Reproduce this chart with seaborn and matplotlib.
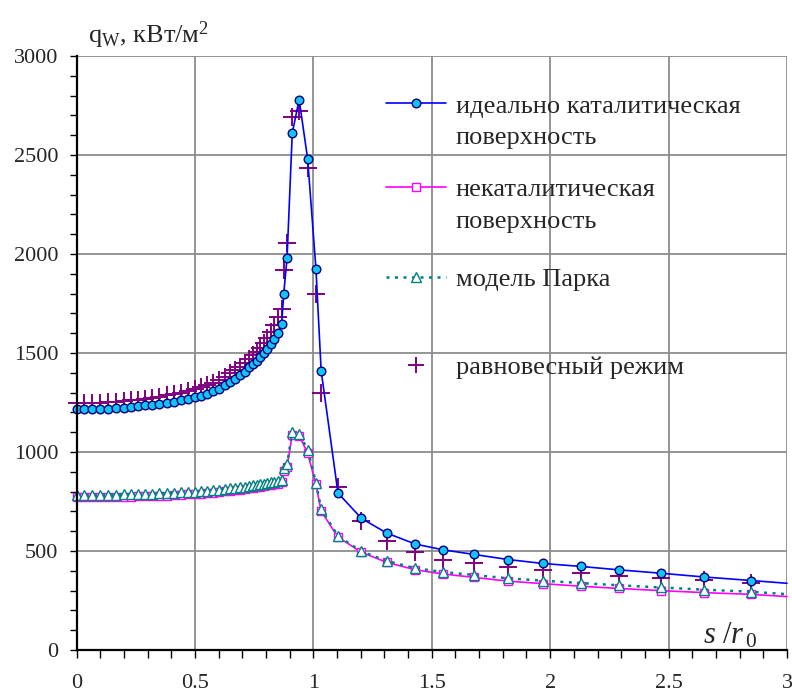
import numpy as np
import pandas as pd
import matplotlib
matplotlib.use("Agg")
import matplotlib.pyplot as plt
from matplotlib.lines import Line2D
from matplotlib.ticker import MultipleLocator, FormatStrFormatter
import seaborn as sns

# ------------------------------------------
# Данные
# ------------------------------------------
s_r0 = [0.00, 0.033, 0.066, 0.10, 0.133, 0.166, 0.20, 0.23, 0.26, 0.29,
        0.32, 0.35, 0.38, 0.41, 0.44, 0.47, 0.50, 0.525, 0.55, 0.575,
        0.60, 0.625, 0.65, 0.67, 0.69, 0.71, 0.73, 0.745, 0.76, 0.775,
        0.79, 0.805, 0.82, 0.835,
        0.852, 0.866, 0.875, 0.889, 0.911, 0.940, 0.976, 1.011, 1.033,
        1.104, 1.203, 1.309, 1.431, 1.548, 1.677, 1.822, 1.970, 2.131, 2.289,
        2.466, 2.648, 2.849, 3.0]

q_ideal = [1217, 1216, 1216, 1217, 1219, 1221, 1224, 1227, 1231, 1235,
           1239, 1243, 1248, 1254, 1261, 1268, 1276, 1285, 1295, 1306,
           1320, 1337, 1355, 1370, 1388, 1406, 1427, 1444, 1462, 1480,
           1500, 1522, 1545, 1570,
           1603, 1644, 1800, 1980, 2610, 2780, 2480, 1925, 1410,
           793, 665, 591, 535, 506, 483, 457, 437, 422, 405,
           388, 369, 351, 337]

q_noncat = [772, 772, 772, 772, 773, 773, 774, 775, 776, 777,
            778, 779, 780, 782, 784, 786, 788, 790, 793, 795,
            798, 801, 804, 807, 810, 813, 816, 819, 822, 825,
            828, 831, 835, 839,
            840, 848, 905, 925, 1088, 1082, 995, 836, 701,
            570, 494, 443, 405, 384, 367, 348, 335, 322, 311,
            300, 290, 281, 270]

q_park = [784, 784, 784, 784, 785, 785, 786, 787, 788, 789,
          790, 791, 792, 794, 796, 798, 800, 802, 805, 807,
          810, 813, 816, 819, 822, 825, 828, 831, 834, 837,
          840, 843, 847, 851,
          855, 860, 920, 940, 1100, 1092, 1012, 845, 712,
          576, 498, 450, 413, 394, 379, 362, 350, 338, 327,
          316, 305, 294, 282]

q_equil = [1247, 1247, 1247, 1249, 1251, 1254, 1257, 1261, 1265, 1270,
           1275, 1280, 1286, 1293, 1300, 1308, 1317, 1327, 1338, 1350,
           1364, 1380, 1397, 1413, 1430, 1449, 1470, 1488, 1507, 1527,
           1550, 1575, 1605, 1640,
           1680, 1720, 1919, 2057, 2690, 2723, 2433, 1796, 1298,
           822, 654, 553, 494, 455, 438, 418, 406, 388, 376,
           363, 354, 337, np.nan]

df = pd.DataFrame({"s": s_r0, "ideal": q_ideal, "noncat": q_noncat,
                   "park": q_park, "equil": q_equil})

# ------------------------------------------
# Оформление
# ------------------------------------------
sns.set_style("whitegrid")
plt.rcParams["font.family"] = ["Liberation Serif", "DejaVu Serif"]
plt.rcParams["mathtext.fontset"] = "custom"
plt.rcParams["mathtext.rm"] = "Liberation Serif"
plt.rcParams["mathtext.it"] = "Liberation Serif:italic"

fig = plt.figure(figsize=(7.92, 6.97), dpi=100)
ax = fig.add_axes([0.0966, 0.0674, 0.8971, 0.8523])

marks = list(range(len(s_r0) - 1))  # последняя точка только для линии

sns.scatterplot(data=df, x="s", y="equil", marker="+", s=150, color="#800080",
                linewidth=1.4, zorder=2, ax=ax, clip_on=False)
sns.lineplot(data=df, x="s", y="noncat", estimator=None, color="#FF00FF", lw=1.2,
             marker="s", markersize=5.5, markerfacecolor="white",
             markeredgecolor="#FF00FF", markeredgewidth=1.0, markevery=marks,
             zorder=3, ax=ax, clip_on=False)
sns.lineplot(data=df, x="s", y="park", estimator=None, color="#008080", lw=1.8,
             linestyle=(0, (1.2, 2.2)), marker="^", markersize=6.5,
             markerfacecolor="white", markeredgecolor="#008080",
             markeredgewidth=1.0, markevery=marks, zorder=4, ax=ax, clip_on=False)
sns.lineplot(data=df, x="s", y="ideal", estimator=None, color="#0000FF", lw=1.2,
             marker="o", markersize=6.2, markerfacecolor="#12C4F2",
             markeredgecolor="#000080", markeredgewidth=1.0, markevery=marks,
             zorder=5, ax=ax, clip_on=False)

ax.set_xlim(0, 3)
ax.set_ylim(0, 3000)
ax.xaxis.set_major_locator(MultipleLocator(0.5))
ax.xaxis.set_minor_locator(MultipleLocator(0.1))
ax.xaxis.set_major_formatter(FormatStrFormatter("%g"))
ax.yaxis.set_major_locator(MultipleLocator(500))
ax.yaxis.set_minor_locator(MultipleLocator(100))
ax.grid(True, which="major", color="#8c8c8c", linewidth=1.3)
ax.grid(False, which="minor")
ax.tick_params(axis="x", which="both", direction="out", length=6, width=1,
               color="black", labelsize=16, pad=11, bottom=True)
ax.tick_params(axis="y", which="both", direction="out", length=5, width=1,
               color="black", labelsize=16, pad=8, left=True)
ax.set_xlabel("")
ax.set_ylabel("")
for side in ["top", "right"]:
    ax.spines[side].set_visible(False)
for side in ["left", "bottom"]:
    ax.spines[side].set_color("black")
    ax.spines[side].set_linewidth(1.6)
    ax.spines[side].set_zorder(6)

# подписи осей
fig.text(0.111, 0.95, r"q$_{\mathrm{W}}$, кВт/м$^{2}$", fontsize=19,
         ha="left", va="center")
ax.text(0.882, 0.0, r"$s\ /r_{\,0}$", fontsize=22, ha="left", va="bottom",
        transform=ax.transAxes)

# ------------------------------------------
# Легенда (по группам, чтобы маркер стоял у первой строки)
# ------------------------------------------
h_ideal = Line2D([], [], color="#0000FF", lw=1.2, marker="o", markersize=6.2,
                 markerfacecolor="#12C4F2", markeredgecolor="#000080")
h_noncat = Line2D([], [], color="#FF00FF", lw=1.2, marker="s", markersize=5.5,
                  markerfacecolor="white", markeredgecolor="#FF00FF")
h_park = Line2D([], [], color="#008080", lw=1.8, linestyle=(0, (1.2, 2.2)),
                marker="^", markersize=6.5, markerfacecolor="white",
                markeredgecolor="#008080")
h_equil = Line2D([], [], color="#800080", lw=0, marker="+", markersize=12,
                 markeredgewidth=1.4)
h_blank = Line2D([], [], linestyle="none")

groups = [
    ([h_ideal, h_blank], ["идеально каталитическая", "поверхность"], 0.865),
    ([h_noncat, h_blank], ["некаталитическая", "поверхность"], 0.745),
    ([h_park], ["модель Парка"], 0.616),
    ([h_equil], ["равновесный режим"], 0.490),
]
for handles, labels, ytop in groups:
    leg = fig.legend(handles, labels, loc="upper left",
                     bbox_to_anchor=(0.487, ytop), frameon=False,
                     fontsize=19, handlelength=2.3, handletextpad=0.35,
                     borderpad=0, borderaxespad=0, labelspacing=0.3)

fig.savefig("out.png", dpi=100)
